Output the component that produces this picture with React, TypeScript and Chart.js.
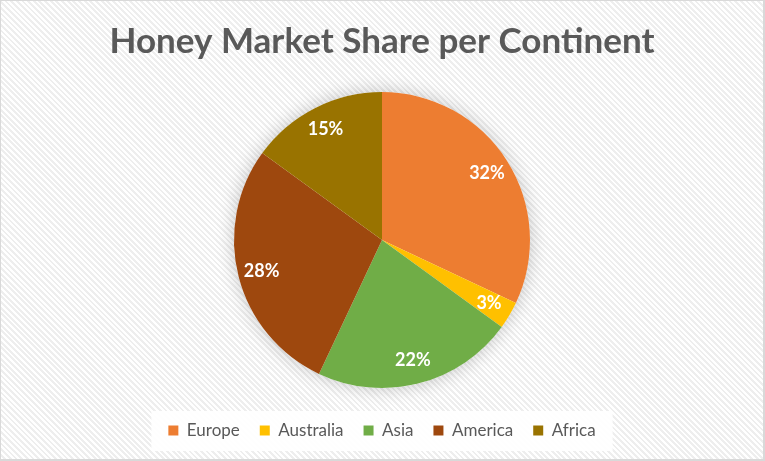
import React, { useEffect, useRef } from "react";
import { Chart, registerables } from "chart.js";

Chart.register(...registerables);

const TITLE = "Honey Market Share per Continent";
const continents = ["Europe", "Australia", "Asia", "America", "Africa"];
const shares = [32, 3, 22, 28, 15];
const sliceColors = ["#ED7D31", "#FFC000", "#70AD47", "#9E480E", "#997300"];

const FONT = "Lato, 'Open Sans', sans-serif";

const shadowPlugin = {
  id: "pieShadow",
  beforeDatasetsDraw(chart: any) {
    const meta = chart.getDatasetMeta(0);
    const arc = meta.data[0];
    if (!arc) return;
    const { x, y, outerRadius } = arc.getProps(["x", "y", "outerRadius"], true);
    const ctx = chart.ctx;
    ctx.save();
    ctx.shadowColor = "rgba(0,0,0,0.22)";
    ctx.shadowBlur = 18;
    ctx.fillStyle = "#ffffff";
    ctx.beginPath();
    ctx.arc(x, y, outerRadius, 0, Math.PI * 2);
    ctx.fill();
    ctx.restore();
  },
};

const labelPlugin = {
  id: "pctLabels",
  afterDatasetsDraw(chart: any) {
    const meta = chart.getDatasetMeta(0);
    const data = chart.data.datasets[0].data as number[];
    const total = data.reduce((a, b) => a + b, 0);
    const ctx = chart.ctx;
    ctx.save();
    ctx.fillStyle = "#ffffff";
    ctx.font = `bold 18px ${FONT}`;
    ctx.textAlign = "center";
    ctx.textBaseline = "middle";
    meta.data.forEach((el: any, i: number) => {
      const { x, y, startAngle, endAngle, outerRadius } = el.getProps(
        ["x", "y", "startAngle", "endAngle", "outerRadius"],
        true
      );
      const mid = (startAngle + endAngle) / 2;
      const r = outerRadius * 0.84;
      const pct = Math.round((data[i] / total) * 100);
      ctx.fillText(`${pct}%`, x + Math.cos(mid) * r, y + Math.sin(mid) * r);
    });
    ctx.restore();
  },
};

const legendBoxPlugin = {
  id: "legendBox",
  beforeDraw(chart: any) {
    const lg = chart.legend;
    if (!lg || !lg.legendHitBoxes || !lg.legendHitBoxes.length) return;
    const hb = lg.legendHitBoxes;
    const left = hb[0].left - 17;
    const last = hb[hb.length - 1];
    const right = last.left + last.width + 17;
    const ctx = chart.ctx;
    ctx.save();
    ctx.fillStyle = "rgba(255,255,255,0.92)";
    ctx.fillRect(left, lg.top + 9, right - left, 40);
    ctx.restore();
  },
};

export default function App() {
  const ref = useRef<HTMLCanvasElement>(null);

  useEffect(() => {
    document.body.style.margin = "0";
    const chart = new Chart(ref.current!, {
      type: "pie",
      data: {
        labels: continents,
        datasets: [
          {
            data: shares,
            backgroundColor: sliceColors,
            borderWidth: 0,
            radius: 148,
          } as any,
        ],
      },
      options: {
        responsive: false,
        animation: false,
        layout: { padding: { top: 0, bottom: 10, left: 0, right: 0 } },
        plugins: {
          title: {
            display: true,
            text: TITLE,
            color: "#595959",
            font: { family: FONT, size: 35, weight: "bold", lineHeight: 1.2 },
            padding: { top: 20, bottom: 15 },
          },
          legend: {
            display: true,
            position: "bottom",
            labels: {
              color: "#595959",
              font: { family: FONT, size: 17 },
              boxWidth: 10,
              boxHeight: 10,
              padding: 20,
            },
          },
          tooltip: { enabled: false },
        },
      },
      plugins: [legendBoxPlugin, shadowPlugin, labelPlugin],
    });
    return () => chart.destroy();
  }, []);

  return (
    <div
      style={{
        position: "absolute",
        left: 0,
        top: 0,
        width: 765,
        height: 461,
        boxSizing: "border-box",
        borderStyle: "solid",
        borderColor: "#d9d9d9",
        borderWidth: "1px 2px 2px 1px",
        background:
          "repeating-linear-gradient(45deg, #ffffff 0px, #ffffff 2px, #eeeeee 2px, #eeeeee 4px)",
      }}
    >
      <canvas ref={ref} width={762} height={458} style={{ display: "block" }} />
    </div>
  );
}
